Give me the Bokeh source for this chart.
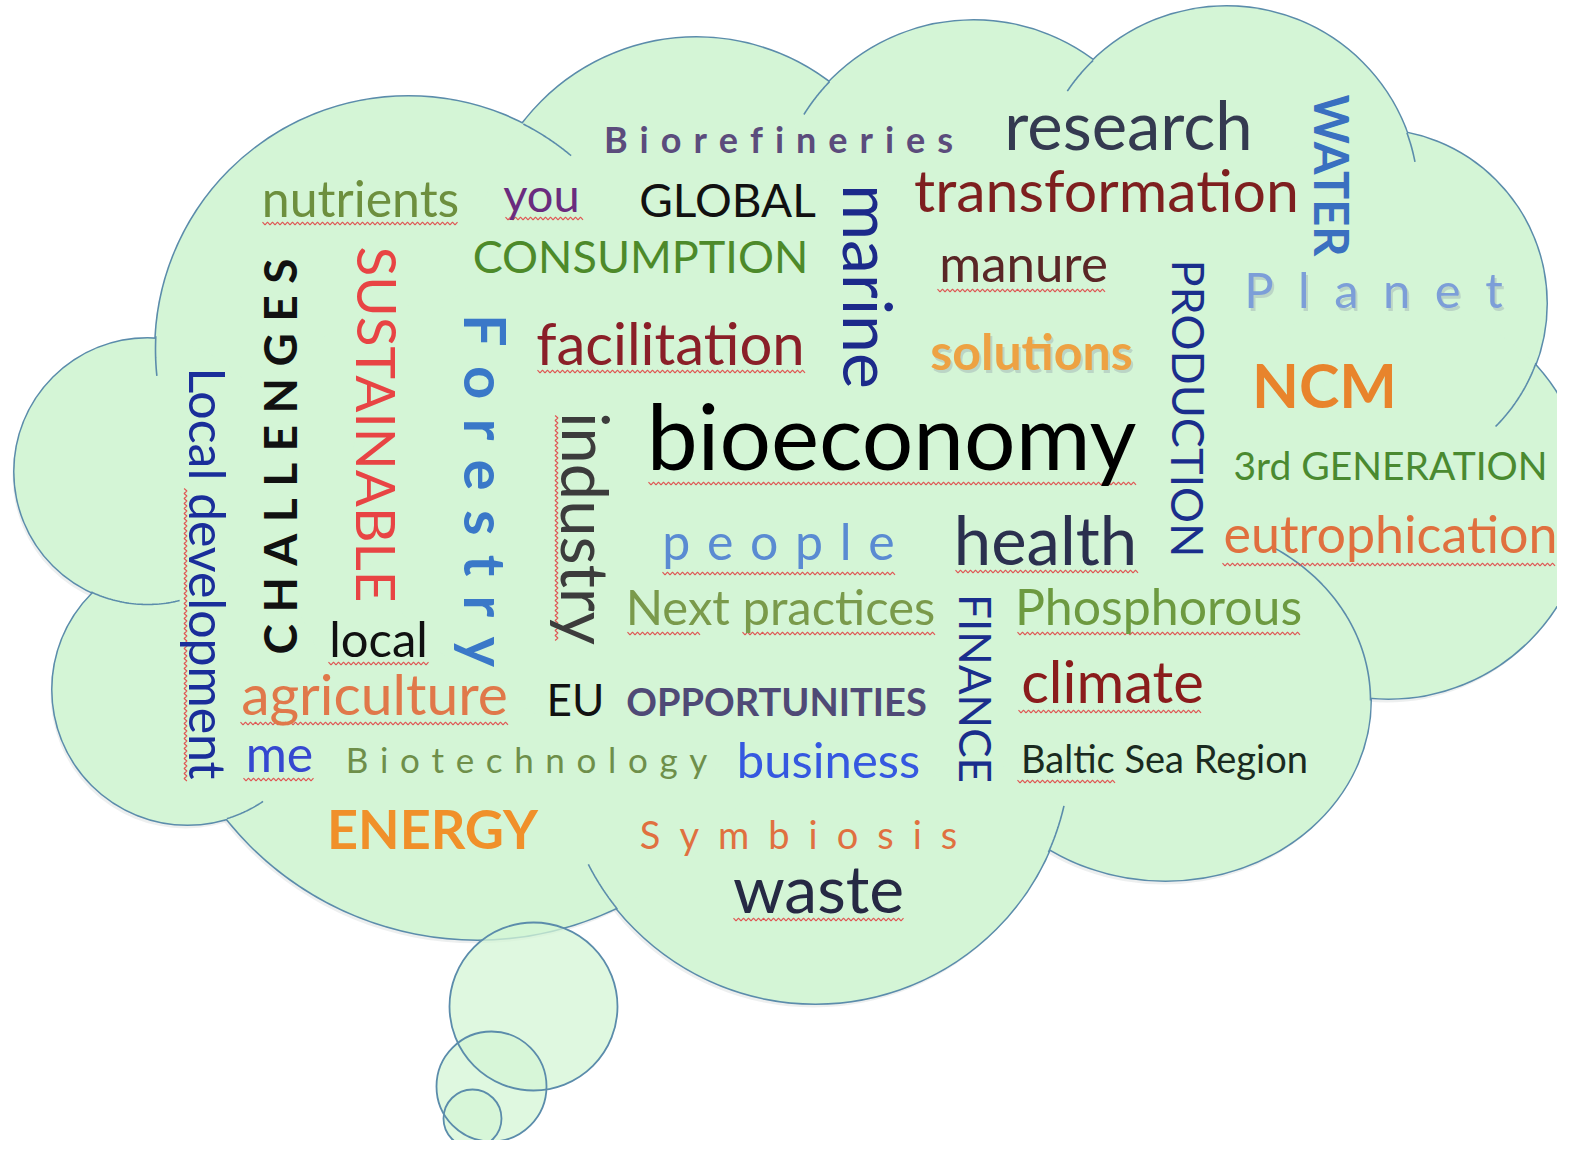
import numpy as np
from bokeh.plotting import figure
from bokeh.models import Range1d, ColumnDataSource
from bokeh.embed import file_html
from bokeh.resources import INLINE
from bokeh.core.properties import value

# ---------------- data: the words of the cloud ----------------
WORDS = ["Biorefineries", "research", "nutrients", "you", "GLOBAL", "transformation",
         "CONSUMPTION", "manure", "facilitation", "solutions", "Planet", "NCM",
         "bioeconomy", "3rd GENERATION", "people", "health", "eutrophication",
         "Next practices", "Phosphorous", "local", "agriculture", "EU", "OPPORTUNITIES",
         "climate", "me", "Biotechnology", "business", "Baltic Sea Region", "ENERGY",
         "Symbiosis", "waste",
         "WATER", "marine", "PRODUCTION", "SUSTAINABLE", "Forestry", "Local development",
         "industry", "FINANCE", "CHALLENGES"]

# ---------------- layout (reference pixel coordinates) ----------------
# centre along the text line, baseline position, font px, colour, rotation, bold
WORD_X = [778, 1128, 360, 541, 727, 1106, 640, 1023, 670, 1031, 1373, 1324,
          891, 1390, 778, 1045, 1390, 780, 1158, 378, 374, 575, 776,
          1112, 279, 526, 828, 1164, 432, 798, 818,
          1313, 842, 1170, 355, 463, 187, 560, 958, 297]
WORD_Y = [153, 150, 217, 212, 217, 213, 273, 282, 365, 370, 308, 408,
          470, 480, 560, 565, 553, 625, 625, 657, 715, 716, 716,
          703, 772, 772, 778, 773, 850, 849, 913,
          175, 286, 408, 424, 490, 573, 528, 688, 456]
WORD_SIZE = [36, 67, 50, 47, 46, 59, 45, 51, 58, 50, 49, 61,
             91, 39, 50, 67, 52, 49, 50, 49, 57, 44, 38,
             58, 50, 35, 49, 38, 54, 38, 66,
             47, 68, 45, 55, 58, 50, 65, 44, 46]
WORD_COLOR = ["#5b4c7c", "#343a50", "#6d8f3e", "#6a2c7e", "#111111", "#7e1f1f",
              "#4d8a2a", "#5a2626", "#8a1f28", "#eda243", "#7c9ed8", "#e8842c",
              "#000000", "#4a8a30", "#5a8bd2", "#2b304f", "#e0703f",
              "#7a9a4b", "#6d9a40", "#111111", "#e0784a", "#111111", "#4f4a76",
              "#8a1c1c", "#3548d0", "#6e8f4a", "#3558e0", "#1a2b20", "#f0902a",
              "#e07040", "#262944",
              "#3a70c0", "#1c2a8a", "#1a2e8c", "#e84444", "#3a78c8", "#1a2e9a",
              "#3c3c3c", "#1a2e8c", "#111111"]
WORD_ROT = [0] * 31 + [-90] * 8 + [90]
BOLD = {"Biorefineries", "solutions", "NCM", "OPPORTUNITIES", "ENERGY",
        "WATER", "Forestry", "CHALLENGES"}
# letter-spaced words: the space put between letters
SPACED = {"Biorefineries": "\u2004", "Planet": "\u2002", "people": "\u2004",
          "Biotechnology": "\u2004", "Symbiosis": "\u2002", "Forestry": "\u2004",
          "CHALLENGES": "\u2005"}

# cloud lobes: centre x, centre y, radius x, radius y
LOBE_X = [408, 696, 973, 1226, 1372, 1388, 1165, 815, 477, 187, 147]
LOBE_Y = [349, 256, 220, 198, 303, 499, 700, 748, 618, 689, 471]
LOBE_RX = [253, 219, 200, 192, 174, 199, 205, 255, 321, 135, 133]
LOBE_RY = [253, 219, 200, 192, 174, 199, 180, 255, 321, 135, 133]
# inner arc stubs: lobe index, start deg, end deg
STUB_LOBE = [0, 2, 3, 3, 4, 6, 7, 7, 9, 10, 0]
STUB_A0 = [-63, 212, 214, -20, 20, -58, 13, 141, 56, 76, 174]
STUB_A1 = [-50, 224, 226, -11, 45, 0, 24, 153, 73, 115, 183]
# thought-bubble tail circles
TAIL_X = [533, 491, 472]
TAIL_Y = [1006, 1086, 1118]
TAIL_R = [84, 55, 29]

# spell-check squiggles (horizontal: x0, x1, y ; vertical: x, y0, y1)
SQ_H = [(262, 458, 223), (505, 583, 218), (537, 805, 371), (937, 1105, 290),
        (648, 1138, 483), (662, 895, 573), (955, 1138, 571), (1222, 1555, 564),
        (627, 702, 633), (742, 935, 633), (1017, 1300, 633), (328, 430, 663),
        (240, 510, 723), (1018, 1203, 711), (243, 315, 779), (1017, 1115, 781),
        (733, 905, 919)]
SQ_V = [(185, 488, 783), (556, 415, 642)]

FILL = "#d4f5d6"
EDGE = "#5b8cab"
BASE_SHIFT = 0.4   # alphabetic anchor correction, in em
SHADOW_DX, SHADOW_DY = -2, 4

p = figure(width=1557, height=1140, x_range=Range1d(0, 1557), y_range=Range1d(1140, 0),
           output_backend="svg", toolbar_location=None, min_border=0,
           x_axis_location=None, y_axis_location=None,
           background_fill_color="white", border_fill_color="white",
           outline_line_color=None)
p.grid.visible = False

lobes = ColumnDataSource(dict(x=LOBE_X, y=LOBE_Y,
                              sx=[v + SHADOW_DX for v in LOBE_X],
                              sy=[v + SHADOW_DY for v in LOBE_Y],
                              w=[2 * r for r in LOBE_RX], h=[2 * r for r in LOBE_RY]))
# faint drop shadow
p.ellipse(x="sx", y="sy", width="w", height="h", source=lobes,
          fill_color="#9aa4a8", fill_alpha=0.18, line_color=None)
# outlines + fill, then fill again to hide inner parts of the outlines
p.ellipse(x="x", y="y", width="w", height="h", source=lobes,
          fill_color=FILL, line_color=EDGE, line_width=3)
p.ellipse(x="x", y="y", width="w", height="h", source=lobes,
          fill_color=FILL, line_color=None)
# central body
p.ellipse(x=[850], y=[480], width=[1000], height=[600], fill_color=FILL, line_color=None)

# inner arc stubs
ax, ay = [], []
for li, a0, a1 in zip(STUB_LOBE, STUB_A0, STUB_A1):
    t = np.radians(np.linspace(a0, a1, 40))
    ax.append(list(LOBE_X[li] + LOBE_RX[li] * np.cos(t)))
    ay.append(list(LOBE_Y[li] + LOBE_RY[li] * np.sin(t)))
p.multi_line(xs=ax, ys=ay, line_color=EDGE, line_width=1.6)

# tail circles
tail = ColumnDataSource(dict(x=TAIL_X, y=TAIL_Y, d=[2 * r for r in TAIL_R]))
p.ellipse(x="x", y="y", width="d", height="d", source=tail,
          fill_color=FILL, fill_alpha=0.75, line_color=None)
p.ellipse(x="x", y="y", width="d", height="d", source=tail,
          fill_color=None, line_color=EDGE, line_width=1.8)

# spell-check squiggles
qx, qy = [], []
for x0, x1, y in SQ_H:
    xs = np.arange(x0, x1, 2.5)
    qx.append(list(xs))
    qy.append(list(y + 1.4 * np.where(np.arange(len(xs)) % 2 == 0, -1, 1)))
for x, y0, y1 in SQ_V:
    ys = np.arange(y0, y1, 2.5)
    qy.append(list(ys))
    qx.append(list(x + 1.4 * np.where(np.arange(len(ys)) % 2 == 0, -1, 1)))
p.multi_line(xs=qx, ys=qy, line_color="#e04848", line_width=1.2, line_alpha=0.9)


# words
def shown(w):
    return SPACED[w].join(w) if w in SPACED else w


def anchor(i):
    s = BASE_SHIFT * WORD_SIZE[i]
    r = WORD_ROT[i]
    if r == 0:
        return WORD_X[i], WORD_Y[i] - s
    if r < 0:                      # clockwise: baseline given as x, centre as y
        return WORD_X[i] + s, WORD_Y[i]
    return WORD_X[i] - s, WORD_Y[i]


for bold in (False, True):
    idx = [i for i, w in enumerate(WORDS) if (w in BOLD) == bold]
    anc = [anchor(i) for i in idx]
    src = ColumnDataSource(dict(
        x=[a[0] for a in anc], y=[a[1] for a in anc],
        text=[shown(WORDS[i]) for i in idx],
        size=["%dpx" % WORD_SIZE[i] for i in idx],
        color=[WORD_COLOR[i] for i in idx],
        angle=[np.radians(WORD_ROT[i]) for i in idx]))
    # soft shadow for the shaded words
    sh = [k for k, i in enumerate(idx) if WORDS[i] in ("Planet", "solutions")]
    if sh:
        shsrc = ColumnDataSource({k: [v[j] for j in sh] for k, v in src.data.items()})
        p.text(x="x", y="y", text="text", source=shsrc, x_offset=2, y_offset=3,
               text_font=value("Lato"), text_font_size="size", text_color="#8c9aa8",
               text_alpha=0.35, angle="angle", text_align="center",
               text_baseline="alphabetic",
               text_font_style="bold" if bold else "normal")
    p.text(x="x", y="y", text="text", source=src, text_font=value("Lato"),
           text_font_size="size", text_color="color", angle="angle",
           text_align="center", text_baseline="alphabetic",
           text_font_style="bold" if bold else "normal")

open("out.html", "w").write(file_html(p, INLINE))
